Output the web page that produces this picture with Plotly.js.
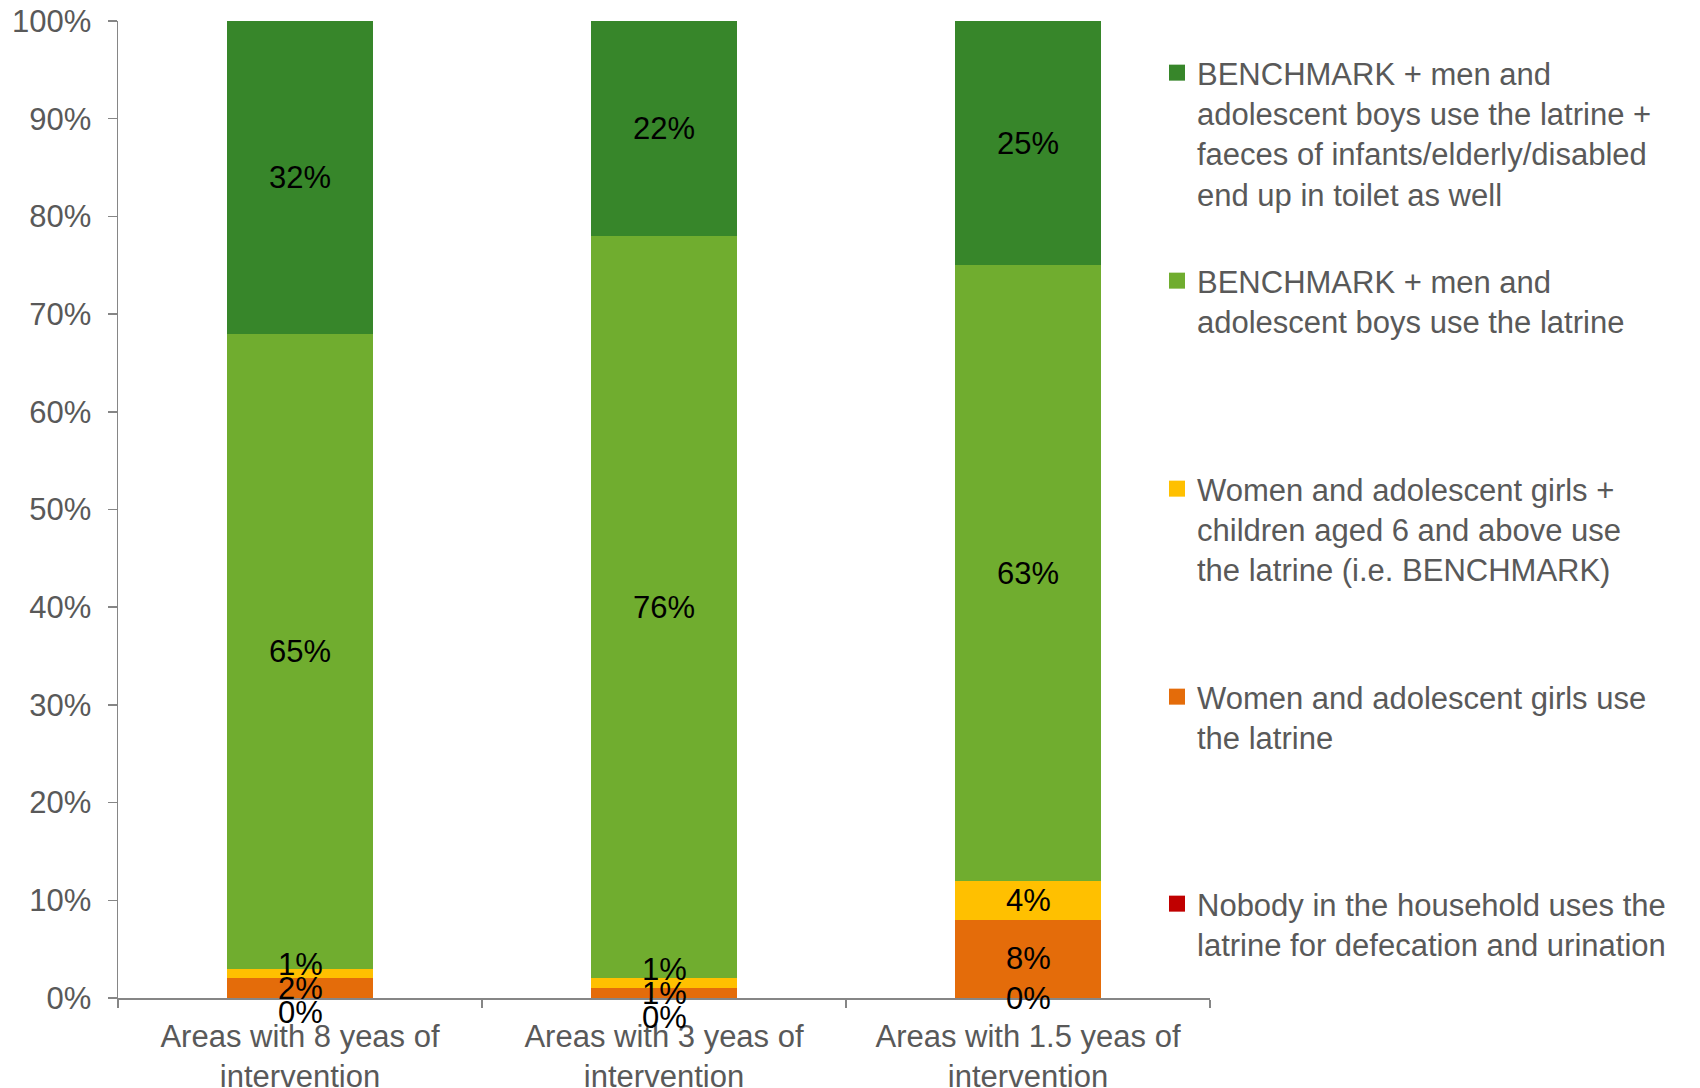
<!DOCTYPE html>
<html>
<head>
<meta charset="utf-8">
<script src="https://cdn.plot.ly/plotly-3.0.1.min.js"></script>
<style>html,body{margin:0;padding:0;background:#fff;}#chart{width:1700px;height:1088px;}</style>
</head>
<body>
<div id="chart"></div>
<script>
const categories = [
  "Areas with 8 yeas of<br>intervention",
  "Areas with 3 yeas of<br>intervention",
  "Areas with 1.5 yeas of<br>intervention"
];
const nobody = [0, 0, 0];
const womenGirls = [2, 1, 8];
const benchmark = [1, 1, 4];
const benchmarkMen = [65, 76, 63];
const benchmarkMenFaeces = [32, 22, 25];

const seriesNames = [
  "Nobody in the household uses the<br>latrine for defecation and urination",
  "Women and adolescent girls use<br>the latrine",
  "Women and adolescent girls +<br>children aged 6 and above use<br>the latrine (i.e. BENCHMARK)",
  "BENCHMARK + men and<br>adolescent boys use the latrine",
  "BENCHMARK + men and<br>adolescent boys use the latrine +<br>faeces of infants/elderly/disabled<br>end up in toilet as well"
];
const seriesValues = [nobody, womenGirls, benchmark, benchmarkMen, benchmarkMenFaeces];
const seriesColors = ["#C00000", "#E46C0A", "#FFC000", "#70AD2F", "#37862A"];
const legendIds = ["legend5", "legend4", "legend3", "legend2", "legend"];
const legendTopY = [905, 698, 490, 282, 74];

const font = "Liberation Sans, Arial, sans-serif";
const plotTop = 21, plotBottom = 998, plotLeft = 118, plotRight = 1210;
const ph = plotBottom - plotTop, pw = plotRight - plotLeft;
const pxPerUnit = ph / 100;
const labelSpacing = 24;

const traces = [];
seriesValues.forEach((vals, i) => {
  traces.push({
    type: "bar",
    name: seriesNames[i],
    x: categories,
    y: vals,
    marker: {color: seriesColors[i], line: {width: 0}},
    hoverinfo: "skip",
    showlegend: false
  });
});
// legend entries (square swatches)
seriesValues.forEach((vals, i) => {
  traces.push({
    type: "scatter",
    mode: "markers",
    name: seriesNames[i],
    x: [null],
    y: [null],
    marker: {symbol: "square", size: 16, color: seriesColors[i]},
    hoverinfo: "skip",
    showlegend: true,
    legend: legendIds[i]
  });
});

// data labels: centred in each segment, spread apart where they collide
const annotations = [];
categories.forEach((cat, c) => {
  let cum = 0;
  const labs = seriesValues.map(vals => {
    const v = vals[c];
    const mid = cum + v / 2;
    cum += v;
    return {v, px: mid * pxPerUnit, shift: 0};
  });
  // anchor = largest among the small cluster near the bottom; push neighbours apart
  for (let iter = 0; iter < 10; iter++) {
    for (let k = 1; k < labs.length; k++) {
      const a = labs[k - 1], b = labs[k];
      const gap = (b.px + b.shift) - (a.px + a.shift);
      if (gap < labelSpacing) {
        const need = labelSpacing - gap;
        const aBig = a.v >= b.v;
        if (k - 1 === 0 && a.v === 0) { a.shift -= need; }
        else if (aBig) { b.shift += need; }
        else { a.shift -= need; }
      }
    }
  }
  labs.forEach((l, i) => {
    const vals = seriesValues[i];
    let base = 0;
    for (let j = 0; j < i; j++) base += seriesValues[j][c];
    annotations.push({
      x: cat,
      y: base + vals[c] / 2,
      xref: "x",
      yref: "y",
      text: vals[c] + "%",
      showarrow: false,
      yshift: l.shift,
      font: {family: font, size: 31, color: "#000000"},
      xanchor: "center",
      yanchor: "middle"
    });
  });
});

const layout = {
  width: 1700,
  height: 1088,
  barmode: "stack",
  bargap: 0.6,
  paper_bgcolor: "#ffffff",
  plot_bgcolor: "#ffffff",
  margin: {l: plotLeft, r: 1700 - plotRight, t: plotTop, b: 1088 - plotBottom, pad: 0},
  font: {family: font, size: 31, color: "#595959"},
  hovermode: false,
  annotations: annotations,
  xaxis: {
    type: "category",
    showline: true,
    linecolor: "#868686",
    linewidth: 1.5,
    ticks: "outside",
    tickson: "boundaries",
    ticklen: 8,
    tickcolor: "#868686",
    tickwidth: 1.5,
    showgrid: false,
    zeroline: false,
    ticklabelstandoff: 10,
    tickfont: {family: font, size: 31, color: "#595959"}
  },
  yaxis: {
    range: [0, 100],
    dtick: 10,
    tick0: 0,
    ticksuffix: "%",
    showline: true,
    linecolor: "#868686",
    linewidth: 1.5,
    ticks: "outside",
    ticklen: 9,
    tickcolor: "#868686",
    tickwidth: 1.5,
    showgrid: false,
    zeroline: false,
    ticklabelstandoff: 10,
    tickfont: {family: font, size: 31, color: "#595959"}
  },
  showlegend: true
};

legendIds.forEach((id, i) => {
  layout[id] = {
    x: (1157 - plotLeft) / pw,
    xanchor: "left",
    y: (plotBottom - (legendTopY[i] - 28)) / ph,
    yanchor: "top",
    valign: "top",
    bgcolor: "rgba(0,0,0,0)",
    borderwidth: 0,
    itemsizing: "trace",
    font: {family: font, size: 31, color: "#595959"},
    itemclick: false,
    itemdoubleclick: false
  };
});

Plotly.newPlot("chart", traces, layout, {displayModeBar: false, staticPlot: true});
</script>
</body>
</html>
